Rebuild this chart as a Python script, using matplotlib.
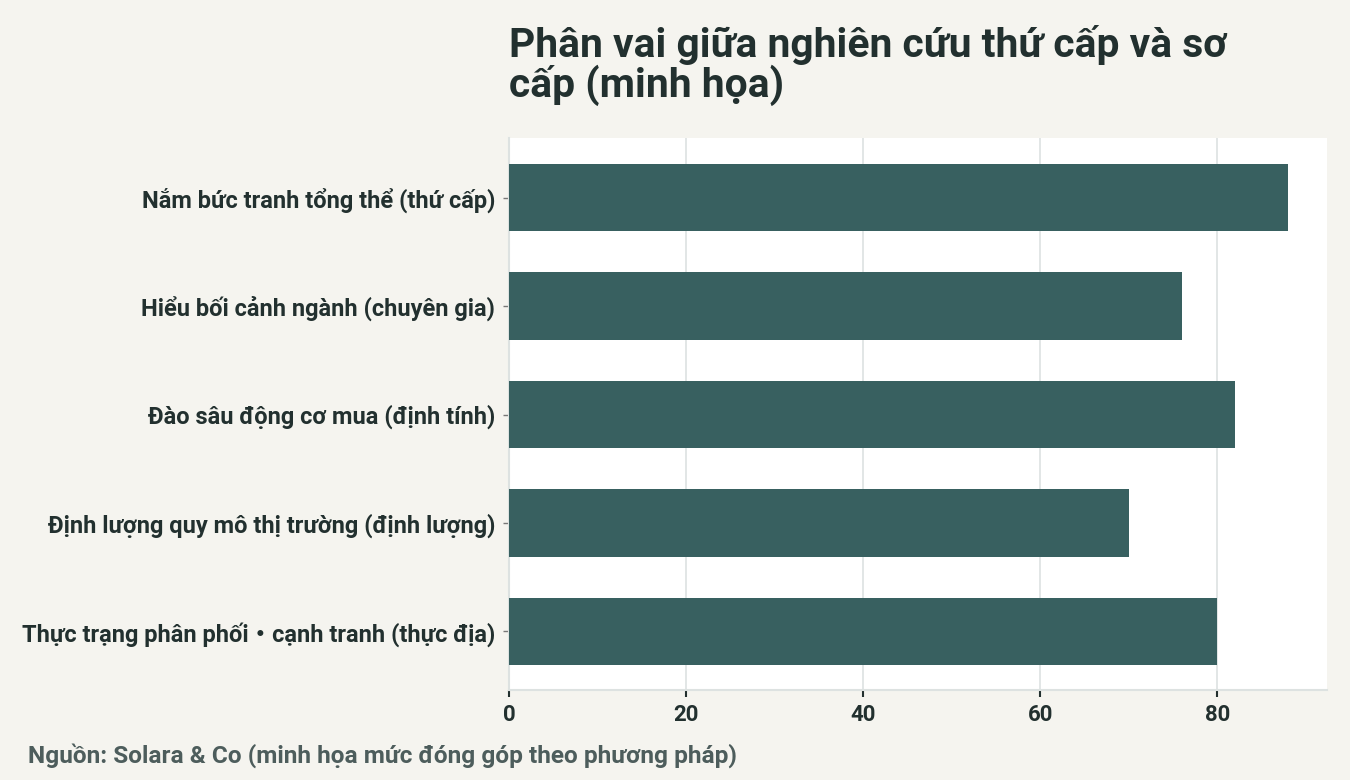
import matplotlib
matplotlib.use("Agg")
import matplotlib.pyplot as plt

plt.rcParams['font.family'] = ['Roboto', 'Noto Sans CJK JP', 'DejaVu Sans']

categories = [
    "Nắm bức tranh tổng thể (thứ cấp)",
    "Hiểu bối cảnh ngành (chuyên gia)",
    "Đào sâu động cơ mua (định tính)",
    "Định lượng quy mô thị trường (định lượng)",
    "Thực trạng phân phối・cạnh tranh (thực địa)",
]
values = [88, 76, 82, 70, 80]
xticks = [0, 20, 40, 60, 80]

title = "Phân vai giữa nghiên cứu thứ cấp và sơ\ncấp (minh họa)"
caption = "Nguồn: Solara & Co (minh họa mức đóng góp theo phương pháp)"

bg = "#f5f4ef"
bar_color = "#386060"
text_color = "#22302f"
grid_color = "#dde2e1"

fig = plt.figure(figsize=(13.5, 7.8), dpi=100, facecolor=bg)
ax = fig.add_axes([509/1350, 1 - 690/780, (1327-509)/1350, (690-138)/780])
ax.set_facecolor("white")

y = list(range(len(categories)))
ax.barh(y, values, height=0.62, color=bar_color, zorder=3)
ax.set_yticks(y)
ax.set_yticklabels(categories)
ax.set_ylim(4.54, -0.55)
ax.set_xlim(0, 92.4)
ax.set_xticks(xticks)
ax.grid(axis='x', color=grid_color, linewidth=1.2, zorder=0)
ax.grid(axis='y', visible=False)

for s in ['top', 'right']:
    ax.spines[s].set_visible(False)
for s in ['left', 'bottom']:
    ax.spines[s].set_color(grid_color)
    ax.spines[s].set_linewidth(1.5)

ax.tick_params(axis='x', colors=text_color, length=5, width=1.5, labelsize=16, pad=5)
ax.tick_params(axis='y', colors=text_color, length=4, width=1, labelsize=17, pad=6)
ax.tick_params(axis='y', color="#777777")
for lbl in ax.get_xticklabels() + ax.get_yticklabels():
    lbl.set_fontweight('bold')
    lbl.set_color(text_color)

fig.text(509/1350, 1 - 25/780, title, ha='left', va='top', fontsize=29.3,
         fontweight='bold', color=text_color, linespacing=1.0)
fig.text(28/1350, 1 - 756/780, caption, ha='left', va='center', fontsize=17.6,
         fontweight='bold', color="#4d5d5c")

fig.savefig("out.png", dpi=100, facecolor=bg)
